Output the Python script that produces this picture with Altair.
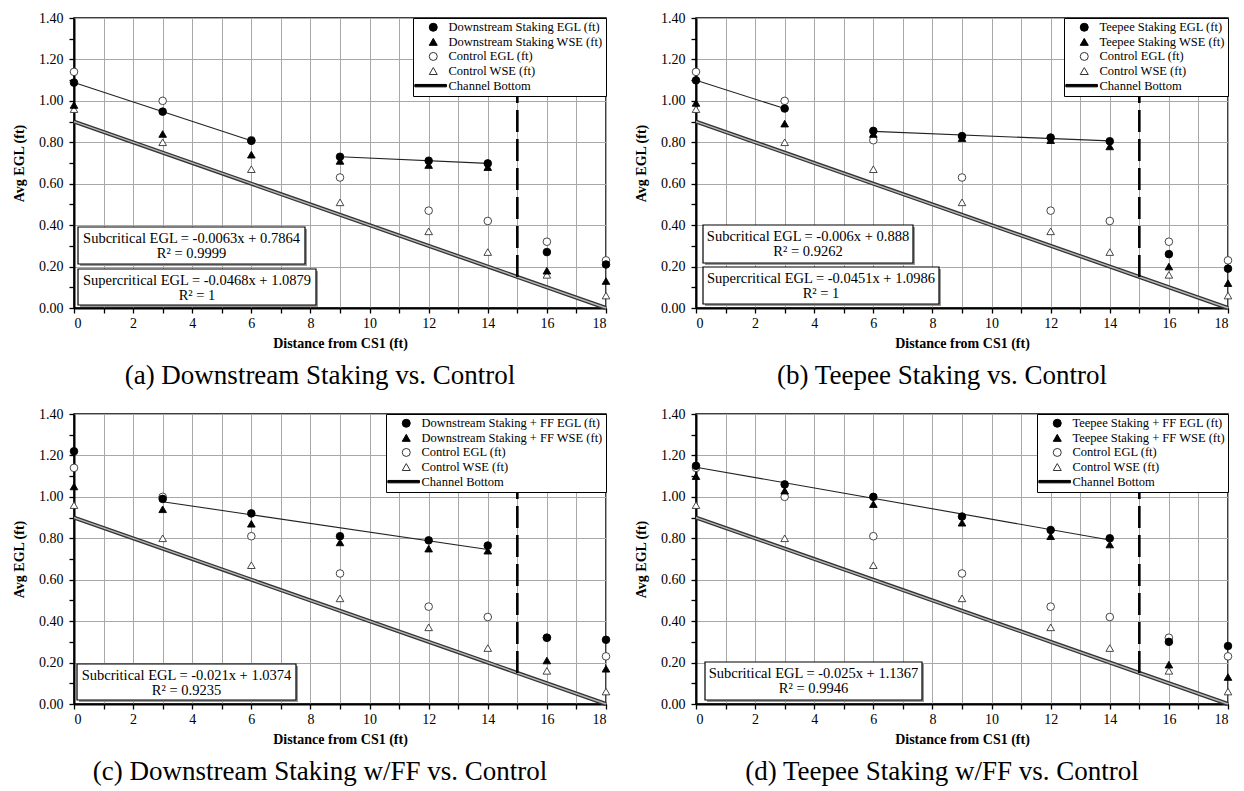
import altair as alt
import pandas as pd

# ---------------- data ----------------
distance = [0, 3, 6, 9, 12, 14, 16, 18]
control_egl = [1.14, 1.00, 0.81, 0.63, 0.47, 0.42, 0.32, 0.23]
control_wse = [0.96, 0.80, 0.67, 0.51, 0.37, 0.27, 0.16, 0.06]

ds_egl = [1.088, 0.948, 0.807, 0.730, 0.711, 0.698, 0.27, 0.21]
ds_wse = [0.98, 0.84, 0.74, 0.71, 0.69, 0.68, 0.18, 0.13]
ts_egl = [1.099, 0.963, 0.855, 0.830, 0.823, 0.805, 0.26, 0.19]
ts_wse = [0.99, 0.89, 0.84, 0.82, 0.81, 0.78, 0.20, 0.12]
dsff_egl = [1.22, 0.99, 0.92, 0.81, 0.79, 0.765, 0.32, 0.31]
dsff_wse = [1.05, 0.94, 0.87, 0.78, 0.75, 0.74, 0.21, 0.17]
tsff_egl = [1.15, 1.06, 1.00, 0.905, 0.84, 0.80, 0.30, 0.28]
tsff_wse = [1.10, 1.03, 0.965, 0.875, 0.81, 0.77, 0.19, 0.13]

channel_x = [0, 18]
channel_y = [0.90, 0.00]
jump_x = [15]
jump_y = [0.15]
jump_y2 = [1.40]

captions = ["(a) Downstream Staking vs. Control", "(b) Teepee Staking vs. Control",
            "(c) Downstream Staking w/FF vs. Control", "(d) Teepee Staking w/FF vs. Control"]
treatments = ["Downstream Staking", "Teepee Staking", "Downstream Staking + FF", "Teepee Staking + FF"]
egl_sets = [ds_egl, ts_egl, dsff_egl, tsff_egl]
wse_sets = [ds_wse, ts_wse, dsff_wse, tsff_wse]
fit_ranges = [[(0, 6), (9, 14)], [(0, 3), (6, 14)], [(3, 14)], [(0, 14)]]
equations = [
    [["Subcritical EGL = -0.0063x + 0.7864", "R² = 0.9999"],
     ["Supercritical EGL = -0.0468x + 1.0879", "R² = 1"]],
    [["Subcritical EGL = -0.006x + 0.888", "R² = 0.9262"],
     ["Supercritical EGL = -0.0451x + 1.0986", "R² = 1"]],
    [["Subcritical EGL = -0.021x + 1.0374", "R² = 0.9235"]],
    [["Subcritical EGL = -0.025x + 1.1367", "R² = 0.9946"]],
]

# ---------------- layout / style ----------------
W, H = 532, 290
FONT = "Liberation Serif"
box_layout = [  # (x1, x2, y1, y2) in pixels inside plot area
    [(4, 231, 209, 246), (4, 242, 251, 287)],
    [(7, 217, 207, 245), (7, 243, 249, 286)],
    [(3, 222, 250, 286)],
    [(9, 226, 248, 286)],
]

x_axis = alt.Axis(
    title="Distance from CS1 (ft)", values=list(range(0, 19)),
    labelExpr="datum.value % 2 == 0 ? datum.label : ''", labelOverlap=False,
    grid=True, gridColor="#a8a8a8", gridWidth=1,
    domainColor="black", domainWidth=2, tickColor="black", tickWidth=1.3, tickSize=5,
    labelFont=FONT, labelFontSize=14, labelColor="black", labelPadding=3,
    titleFont=FONT, titleFontSize=14, titleFontWeight="bold", titleColor="black", titlePadding=6,
)
y_axis = alt.Axis(
    title="Avg EGL (ft)", values=[i / 10 for i in range(15)],
    labelExpr="round(datum.value*10) % 2 == 0 ? format(datum.value, '.2f') : ''", labelOverlap=False,
    grid=True, gridColor="#a8a8a8", gridWidth=1,
    gridOpacity={"condition": {"test": "round(datum.value*10) % 2 == 0", "value": 1}, "value": 0},
    domainColor="black", domainWidth=2, tickColor="black", tickWidth=1.3, tickSize=5,
    labelFont=FONT, labelFontSize=14, labelColor="black", labelPadding=6,
    titleFont=FONT, titleFontSize=14, titleFontWeight="bold", titleColor="black", titlePadding=12,
)
xs = alt.Scale(domain=[0, 18], nice=False, zero=False)
ys = alt.Scale(domain=[0, 1.4], nice=False, zero=False)

legend = alt.Legend(
    title=None, orient="top-right", offset=0, padding=3, fillColor="white",
    strokeColor="black", labelFont=FONT, labelFontSize=12.5, labelColor="black", labelLimit=400,
    symbolSize=64, rowPadding=1.6, labelOffset=9, symbolOffset=11, zindex=1, symbolStrokeWidth=1,
)
bar_path = "M-4.6,-0.3H3.3V0.3H-4.6Z"


def panel(i):
    names = [f"{treatments[i]} EGL (ft)", f"{treatments[i]} WSE (ft)",
             "Control EGL (ft)", "Control WSE (ft)", "Channel Bottom"]
    rows = []
    for d, v in zip(distance, control_egl):
        rows.append({"x": d, "y": v, "series": names[2]})
    for d, v in zip(distance, control_wse):
        rows.append({"x": d, "y": v, "series": names[3]})
    for d, v in zip(distance, wse_sets[i]):
        rows.append({"x": d, "y": v, "series": names[1]})
    for d, v in zip(distance, egl_sets[i]):
        rows.append({"x": d, "y": v, "series": names[0]})
    df = pd.DataFrame(rows)
    egl_df = pd.DataFrame({"x": distance, "y": egl_sets[i]})
    ch_df = pd.DataFrame({"x": channel_x, "y": channel_y})
    jump_df = pd.DataFrame({"x": jump_x, "y": jump_y, "y2": jump_y2})

    X = alt.X("x:Q", scale=xs, axis=x_axis)
    Y = alt.Y("y:Q", scale=ys, axis=y_axis)

    layers = []
    layers.append(alt.Chart(ch_df).mark_line(color="#333", strokeWidth=4).encode(x=X, y=Y))
    layers.append(alt.Chart(ch_df).mark_line(color="#b8b8b8", strokeWidth=1.4).encode(x=X, y=Y))
    layers.append(alt.Chart(jump_df).mark_rule(color="black", strokeWidth=2.6, strokeDash=[22, 7]).encode(
        x=X, y=Y, y2="y2:Q"))
    for lo, hi in fit_ranges[i]:
        layers.append(
            alt.Chart(egl_df).transform_filter(
                (alt.datum.x >= lo) & (alt.datum.x <= hi)
            ).transform_regression("x", "y").mark_line(color="#222", strokeWidth=1.1).encode(x=X, y=Y)
        )
    layers.append(alt.Chart(df).mark_point(size=58, strokeWidth=0.9, opacity=1).encode(
        x=X, y=Y,
        shape=alt.Shape("series:N", scale=alt.Scale(domain=names, range=[
            "circle", "triangle-up", "circle", "triangle-up", bar_path]), legend=legend),
        fill=alt.Fill("series:N", scale=alt.Scale(domain=names, range=[
            "black", "black", "white", "white", "black"]), legend=legend),
        stroke=alt.Stroke("series:N", scale=alt.Scale(domain=names, range=[
            "black", "black", "#333", "#333", "black"]), legend=legend),
    ))
    one = pd.DataFrame({"k": [0]})
    for (x1, x2, y1, y2), lines in zip(box_layout[i], equations[i]):
        layers.append(alt.Chart(one).mark_rect(fill="#9a9a9a").encode(
            x=alt.value(x1 + 2), x2=alt.value(x2 + 2), y=alt.value(y1 + 2), y2=alt.value(y2 + 2)))
        layers.append(alt.Chart(one).mark_rect(fill="white", stroke="black", strokeWidth=1.2).encode(
            x=alt.value(x1), x2=alt.value(x2), y=alt.value(y1), y2=alt.value(y2)))
        cx = (x1 + x2) / 2
        for j, t in enumerate(lines):
            layers.append(alt.Chart(one).mark_text(
                font=FONT, fontSize=14.5, color="black", baseline="middle", align="center").encode(
                x=alt.value(cx), y=alt.value(y1 + 11.5 + 15.5 * j), text=alt.value(t)))
    return alt.layer(*layers).properties(
        width=W, height=H,
        title=alt.TitleParams(text=captions[i], orient="bottom", anchor="middle", font=FONT,
                              fontSize=27, fontWeight="normal", color="black", offset=13, dx=-20),
    )


def indep(c):
    return c.resolve_scale(shape="independent", fill="independent", stroke="independent").resolve_legend(
        shape="independent", fill="independent", stroke="independent")


top = indep(alt.hconcat(panel(0), panel(1), spacing=18))
bottom = indep(alt.hconcat(panel(2), panel(3), spacing=18))
chart = indep(alt.vconcat(top, bottom, spacing=16)).properties(
    padding={"left": 11, "top": 10, "right": 2, "bottom": 2}, background="white"
).configure_view(stroke="black", strokeWidth=1.5).configure_legend(strokeWidth=1)

chart.save("out.html", embed_options={"renderer": "svg", "actions": False})
